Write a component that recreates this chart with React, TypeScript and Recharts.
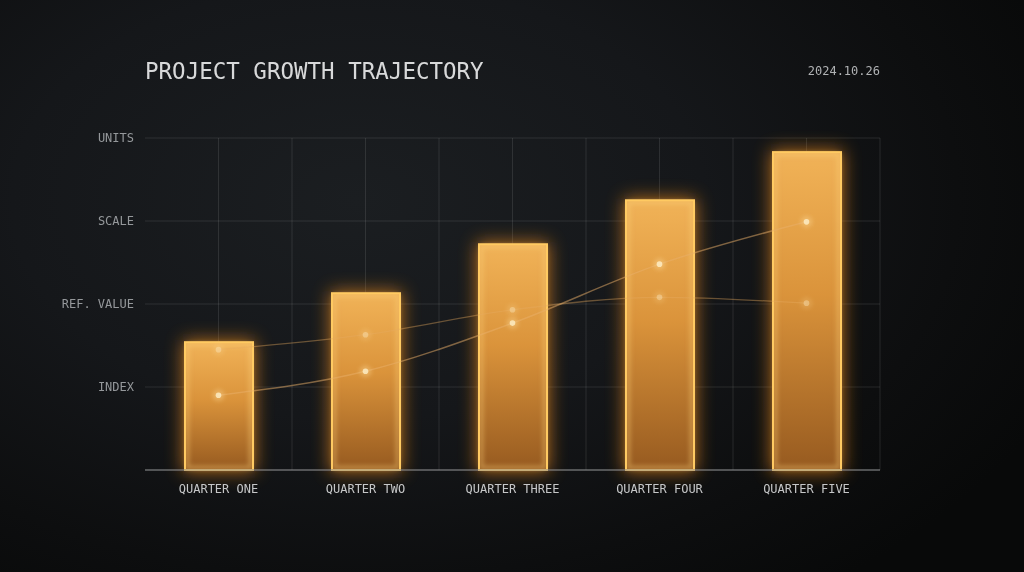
import React from "react";
import {
  ComposedChart,
  Bar,
  Line,
  XAxis,
  YAxis,
  CartesianGrid,
} from "recharts";

const QUARTERS = ["QUARTER ONE", "QUARTER TWO", "QUARTER THREE", "QUARTER FOUR", "QUARTER FIVE"];
const GROWTH = [1.54, 2.13, 2.72, 3.25, 3.83];
const TREND = [0.9, 1.19, 1.77, 2.48, 2.99];
const REFERENCE = [1.45, 1.63, 1.93, 2.08, 2.01];
const Y_TICKS = [1, 2, 3, 4];
const Y_LABELS = ["INDEX", "REF. VALUE", "SCALE", "UNITS"];

const TITLE = "PROJECT GROWTH TRAJECTORY";
const DATE = "2024.10.26";

const FONT = "'DejaVu Sans Mono', monospace";

const data = QUARTERS.map((q, i) => ({
  name: q,
  growth: GROWTH[i],
  trend: TREND[i],
  reference: REFERENCE[i],
}));

// bar with soft orange glow behind it
const GlowBar = (props: any) => {
  const { x, y, width, height } = props;
  if (!height) return null;
  return (
    <g>
      <rect x={x - 2} y={y - 2} width={width + 4} height={height + 4} fill="#f08c1e" opacity={0.7} filter="url(#barGlow)" />
      <rect x={x} y={y} width={width} height={height} fill="url(#barFill)" fillOpacity={0.96} />
      <rect
        x={x + 2.5}
        y={y + 2.5}
        width={width - 5}
        height={height - 5}
        fill="none"
        stroke="#ffd27a"
        strokeOpacity={0.4}
        strokeWidth={4}
        filter="url(#softBlur)"
      />
      <rect x={x} y={y} width={width} height={height} fill="none" stroke="#ffca62" strokeWidth={2} />
    </g>
  );
};

const makeDot = (strength: number) => (props: any) => {
  const { cx, cy, index } = props;
  if (cx == null || cy == null) return <g key={index} />;
  return (
    <g key={index} opacity={strength}>
      <circle cx={cx} cy={cy} r={6} fill="#ffe0a0" opacity={0.4} filter="url(#softBlur)" />
      <circle cx={cx} cy={cy} r={2.8} fill="#fff0c8" />
    </g>
  );
};

// grid columns at every half band: band centres and band edges
const halfBandLines = (args: any) => {
  const left = args?.offset?.left ?? 145;
  const w = args?.offset?.width ?? 735;
  return Array.from({ length: 10 }, (_, i) => left + (w * (i + 1)) / 10);
};

export default function App() {
  return (
    <div
      style={{
        position: "fixed",
        left: 0,
        top: 0,
        width: 1024,
        height: 572,
        overflow: "hidden",
        background:
          "radial-gradient(ellipse 75% 85% at 35% 35%, #1b1e21 0%, #15171a 45%, #0d0e0f 78%, #080909 100%)",
        fontFamily: FONT,
      }}
    >
      <svg width={0} height={0} style={{ position: "absolute" }}>
        <defs>
          <linearGradient id="barFill" x1="0" y1="0" x2="0" y2="1">
            <stop offset="0%" stopColor="#f4b65a" />
            <stop offset="45%" stopColor="#dc953c" />
            <stop offset="100%" stopColor="#965a20" />
          </linearGradient>
          <filter id="barGlow" x="-80%" y="-40%" width="260%" height="180%">
            <feGaussianBlur stdDeviation="9" />
          </filter>
          <filter id="softBlur" x="-50%" y="-50%" width="200%" height="200%">
            <feGaussianBlur stdDeviation="2" />
          </filter>
        </defs>
      </svg>

      <div
        style={{
          position: "absolute",
          left: 145,
          top: 60,
          fontSize: 22.5,
          lineHeight: 1,
          color: "#d8d9da",
          whiteSpace: "nowrap",
        }}
      >
        {TITLE}
      </div>
      <div
        style={{
          position: "absolute",
          right: 1024 - 880,
          top: 65,
          fontSize: 12,
          lineHeight: 1,
          color: "#b0b2b4",
          whiteSpace: "nowrap",
        }}
      >
        {DATE}
      </div>

      <ComposedChart
        width={1024}
        height={572}
        data={data}
        margin={{ top: 138, right: 144, bottom: 72, left: 45 }}
        style={{ position: "absolute", left: 0, top: 0 }}
      >
        <CartesianGrid
          stroke="#ffffff"
          strokeOpacity={0.1}
          strokeWidth={1}
          verticalCoordinatesGenerator={halfBandLines}
        />
        <XAxis
          dataKey="name"
          height={30}
          axisLine={{ stroke: "#8a8c8e", strokeWidth: 1 }}
          tickLine={false}
          tickMargin={8}
          tick={{ fill: "#c6c7c8", fontSize: 12, fontFamily: FONT }}
          interval={0}
        />
        <YAxis
          width={100}
          domain={[0, 4]}
          ticks={Y_TICKS}
          axisLine={false}
          tickLine={false}
          tickMargin={5}
          tick={{ fill: "#95989b", fontSize: 12, fontFamily: FONT }}
          tickFormatter={(v: number) => Y_LABELS[Y_TICKS.indexOf(v)] ?? ""}
        />
        <Bar dataKey="growth" barSize={68} shape={GlowBar} isAnimationActive={false} />
        <Line
          type="monotone"
          dataKey="reference"
          stroke="#e6a95e"
          strokeOpacity={0.4}
          strokeWidth={1.3}
          dot={makeDot(0.45)}
          activeDot={false}
          isAnimationActive={false}
        />
        <Line
          type="monotone"
          dataKey="trend"
          stroke="#eab06a"
          strokeOpacity={0.5}
          strokeWidth={1.5}
          dot={makeDot(0.85)}
          activeDot={false}
          isAnimationActive={false}
        />
      </ComposedChart>
    </div>
  );
}
